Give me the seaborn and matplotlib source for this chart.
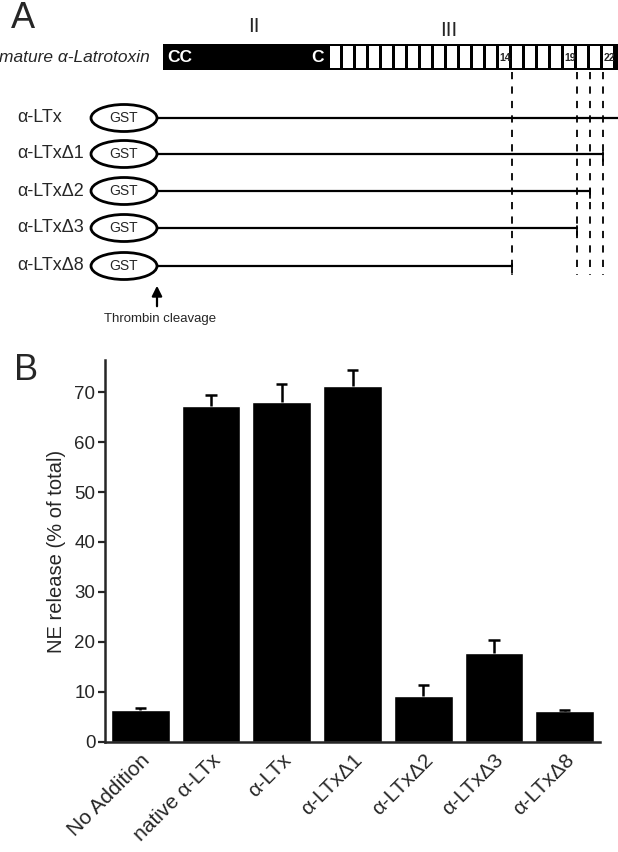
# alpha-Latrotoxin constructs and NE release
import numpy as np
import seaborn as sns
import matplotlib.pyplot as plt
from matplotlib.patches import Rectangle, Ellipse

sns.set_style('ticks')
plt.rcParams['font.family'] = ['Liberation Sans', 'DejaVu Sans']

# panel A data
constructs = ['α-LTx', 'α-LTxΔ1', 'α-LTxΔ2', 'α-LTxΔ3', 'α-LTxΔ8']
last_repeat = [22, 21, 20, 19, 14]
n_repeats = 22
cut_repeats = [14, 19, 20, 21]
numbered_repeats = [14, 19, 22]

# panel B data
conditions = ['No Addition', 'native α-LTx', 'α-LTx', 'α-LTxΔ1',
              'α-LTxΔ2', 'α-LTxΔ3', 'α-LTxΔ8']
ne_release = [6.4, 67.3, 68.0, 71.3, 9.3, 17.9, 6.2]
ne_err = [0.5, 2.1, 3.7, 3.1, 2.2, 2.6, 0.3]

fig = plt.figure(figsize=(6.18, 8.52), dpi=100)

# ---- panel A (pixel-like coordinates) ----
axa = fig.add_axes([0, 1 - 335 / 852, 1, 335 / 852])
axa.set_xlim(0, 618)
axa.set_ylim(335, 0)
axa.axis('off')

box_x0, box_top, box_bot = 163, 44, 70
rep_x0, rep_w = 330, 13.0

def rep_end(k):
    return rep_x0 + rep_w * k

axa.add_patch(Rectangle((box_x0, box_top), 618 - box_x0 + 5, box_bot - box_top,
                        color='black', lw=0))
for k in range(n_repeats):
    axa.add_patch(Rectangle((rep_end(k) + 0.4, box_top + 2), rep_w - 3.3,
                            box_bot - box_top - 4, color='white', lw=0))
for k in numbered_repeats:
    axa.text(rep_end(k) - rep_w / 2, (box_top + box_bot) / 2 + 1, str(k),
             fontsize=7.5, fontweight='bold', ha='center', va='center')

axa.text(150, 58, 'mature α-Latrotoxin', fontsize=12.5, style='italic',
         ha='right', va='center')
axa.text(167, 57, 'CC', color='white', fontsize=12.5, fontweight='bold', va='center')
axa.text(311, 57, 'C', color='white', fontsize=12.5, fontweight='bold', va='center')
axa.text(254, 27, 'II', fontsize=15, ha='center', va='center')
axa.text(449, 30, 'III', fontsize=15, ha='center', va='center')
axa.text(11, 19, 'A', fontsize=26, va='center')

row_y = [118, 154, 191, 228, 266]
for name, last, y in zip(constructs, last_repeat, row_y):
    axa.text(17, y, name, fontsize=13, va='center')
    axa.add_patch(Ellipse((124, y), 66, 27, fill=False, lw=2, ec='black'))
    axa.text(124, y, 'GST', fontsize=10, ha='center', va='center')
    xe = rep_end(last) if last < n_repeats else 620
    axa.plot([157, xe], [y, y], color='black', lw=1.6)
    if last < n_repeats:
        axa.plot([xe, xe], [y - 2, y + 7], color='black', lw=1.3)

for k in cut_repeats:
    axa.plot([rep_end(k)] * 2, [box_bot + 2, 275], color='black', lw=1.3,
             ls=(0, (4, 4)))

axa.annotate('', xy=(157, 283), xytext=(157, 309),
             arrowprops=dict(arrowstyle='-|>', color='black', lw=1.6,
                             mutation_scale=15))
axa.text(160, 319, 'Thrombin cleavage', fontsize=9.5, ha='center', va='center')

# ---- panel B ----
fig.text(14 / 618, 1 - 371 / 852, 'B', fontsize=26, va='center')
ax = fig.add_axes([105 / 618, 1 - 742 / 852, 495 / 618, 382 / 852])
sns.barplot(x=conditions, y=ne_release, color='black', saturation=1,
            width=0.83, ax=ax)
xpos = np.arange(len(conditions))
tops = np.array(ne_release) + np.array(ne_err)
ax.vlines(xpos, ne_release, tops, color='black', lw=1.8)
ax.hlines(tops, xpos - 0.08, xpos + 0.08, color='black', lw=1.8)
ax.set_xlim(-0.5, 6.5)
ax.set_ylim(0, 76.4)
ax.set_yticks(range(0, 80, 10))
ax.set_ylabel('NE release (% of total)', fontsize=14.5, labelpad=6)
ax.tick_params(axis='y', labelsize=13.5, width=1.6, length=5, pad=2)
ax.tick_params(axis='x', labelsize=15, length=0, pad=6)
plt.setp(ax.get_xticklabels(), rotation=45, ha='right', rotation_mode='anchor')
for s in ['left', 'bottom']:
    ax.spines[s].set_linewidth(1.8)
sns.despine(ax=ax)

plt.savefig('out.png', dpi=100)
